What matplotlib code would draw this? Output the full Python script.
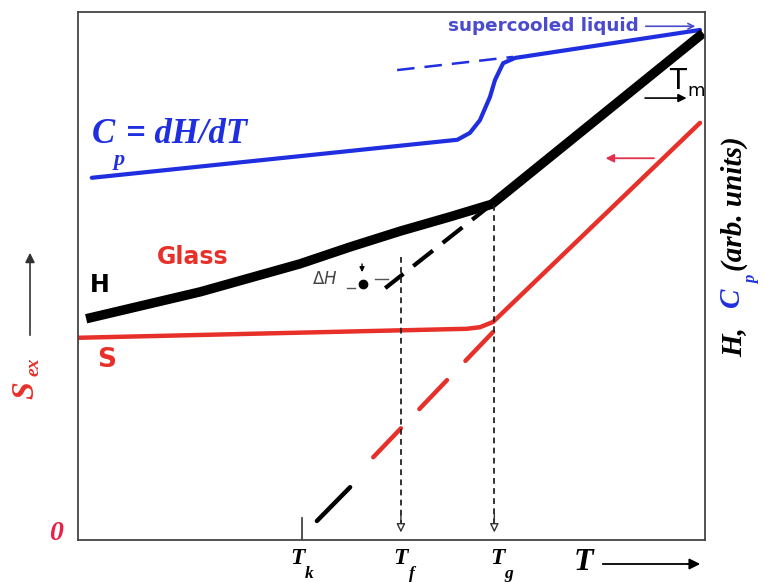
# ===================================================================== #
#            GLASS TRANSITION SCHEMATIC : H, Cp AND S vs T              #
# ===================================================================== #
import matplotlib.pyplot as plt

# ===================================================================== #
#                     DATA (schematic units, 0-100)                     #
# ===================================================================== #
# enthalpy H : glass branch then supercooled liquid
T_H = [1.3, 19.5, 35.4, 43.4, 51.4, 59.3, 66.0, 99.7]
H = [41.9, 47.0, 52.3, 55.5, 58.5, 61.2, 63.6, 96.0]
# liquid H extrapolated down to Tf
T_H_ext = [66.0, 49.0]
H_ext = [63.6, 47.7]

# heat capacity Cp = dH/dT
T_cp = [2.2, 60.5, 62.5, 64.1, 65.7, 66.5, 67.8, 69.7, 99.2]
Cp = [68.6, 75.8, 77.1, 79.5, 83.9, 87.1, 90.3, 91.3, 96.6]
T_cp_ext = [50.9, 69.4]
Cp_ext = [89.0, 91.5]

# excess entropy S
T_S = [0.0, 62.0, 64.1, 66.2, 99.2]
S = [38.3, 40.0, 40.3, 41.3, 79.0]
# liquid S extrapolated towards Kauzmann temperature
T_S_ext = [66.2, 45.9]
S_ext = [39.4, 14.2]
T_S_end = [43.4, 38.1]
S_end = [10.0, 3.6]

# characteristic temperatures
T_k, T_f, T_g = 35.7, 51.5, 66.4
Tf_top, Tg_top = 53.6, 63.4
Tk_tick = 4.2

# Delta H marker
dH_T, dH_y = 45.5, 48.5

BLUE = '#1f2fe0'
RED = '#e8302a'
LBLUE = '#4b4bcc'
SERIF = 'Liberation Serif'

# ===================================================================== #
#                               FIGURE                                  #
# ===================================================================== #
fig = plt.figure(figsize=(7.64, 5.82), dpi=100)
ax = fig.add_axes([78 / 764, 42 / 582, 627 / 764, 528 / 582])
ax.set_xlim(0, 100)
ax.set_ylim(0, 100)
ax.set_xticks([])
ax.set_yticks([])
for sp in ax.spines.values():
    sp.set_color('#444444')
    sp.set_linewidth(1.3)

# curves
ax.plot(T_cp, Cp, color=BLUE, lw=3.0, solid_capstyle='round')
ax.plot(T_cp_ext, Cp_ext, color=BLUE, lw=1.8, dashes=(7, 4))
ax.plot(T_S, S, color=RED, lw=3.2, solid_capstyle='round')
ax.plot(T_S_ext, S_ext, color=RED, lw=3.2, dashes=(9, 6), solid_capstyle='round',
        dash_capstyle='round')
ax.plot(T_S_end, S_end, color='black', lw=3.2, solid_capstyle='round')
ax.plot(T_H, H, color='black', lw=6.8, solid_capstyle='butt')
ax.plot(T_H_ext, H_ext, color='black', lw=3.0, dashes=(6, 3))

# dotted drops to Tf and Tg
for t, top in [(T_f, Tf_top), (T_g, Tg_top)]:
    ax.plot([t, t], [top, 3], color='#222222', lw=1.3, dashes=(3.2, 2.4))
    ax.annotate('', xy=(t, 0.9), xytext=(t, 5.5),
                arrowprops=dict(arrowstyle='-|>', fc='white', ec='#333333',
                                lw=1.0, mutation_scale=13))

# Tk tick
ax.plot([T_k, T_k], [0, Tk_tick], color='#333333', lw=1.2)

# Delta H
ax.plot([dH_T], [dH_y], 'o', color='black', ms=6)
ax.annotate('', xy=(dH_T - 0.2, 50.2), xytext=(dH_T - 0.2, 52.8),
            arrowprops=dict(arrowstyle='-|>', color='black', lw=1.0, mutation_scale=7))
ax.plot([42.9, 44.2], [47.7, 47.7], color='#555555', lw=1.0)
ax.plot([47.4, 49.4], [49.4, 49.4], color='#555555', lw=1.0)
ax.text(39.4, 49.4, r'$\Delta H$', color='#444444', fontsize=12,
        ha='center', va='center')

# arrows inside the plot
ax.annotate('', xy=(98.9, 97.3), xytext=(90.1, 97.3),
            arrowprops=dict(arrowstyle='->', color=LBLUE, lw=1.2))
ax.annotate('', xy=(97.5, 83.7), xytext=(90.0, 83.7),
            arrowprops=dict(arrowstyle='-|>', color='black', lw=1.2, mutation_scale=12))
ax.annotate('', xy=(83.7, 72.3), xytext=(92.3, 72.3),
            arrowprops=dict(arrowstyle='-|>', color='#e0304a', lw=1.3, mutation_scale=12))

# labels inside the plot
ax.text(74.3, 97.4, 'supercooled liquid', color=LBLUE, fontsize=13.2,
        fontweight='bold', ha='center', va='center')
ax.text(95.7, 86.9, 'T', fontsize=20, ha='center', va='center', clip_on=False)
ax.text(98.6, 85.0, 'm', fontsize=13, ha='center', va='center', clip_on=False)
ax.text(2.2, 75.2, 'C', color=BLUE, fontsize=25, family=SERIF, fontweight='bold',
        style='italic', va='baseline')
ax.text(6.6, 71.9, 'p', color=BLUE, fontsize=16, family=SERIF, fontweight='bold',
        style='italic', ha='center', va='center')
ax.text(7.7, 75.2, '= dH/dT', color=BLUE, fontsize=25, family=SERIF,
        fontweight='bold', style='italic', va='baseline')
ax.text(12.6, 53.6, 'Glass', color=RED, fontsize=17, fontweight='bold', va='center')
ax.text(1.9, 48.3, 'H', color='black', fontsize=17, fontweight='bold', va='center')
ax.text(3.0, 34.1, 'S', color=RED, fontsize=19, fontweight='bold', va='center')

# ===================================================================== #
#                        AXIS LABELS (outside)                          #
# ===================================================================== #
def fx(px):
    return px / 764


def fy(py):
    return 1 - py / 582


bi = dict(family=SERIF, fontweight='bold', style='italic')

# bottom temperature labels
for t_px, sub in [(297, 'k'), (400, 'f'), (497, 'g')]:
    fig.text(fx(t_px), fy(559), 'T', fontsize=17, ha='center', va='center', **bi)
    fig.text(fx(t_px + 12), fy(574), sub, fontsize=12.5, ha='center', va='center', **bi)
fig.text(fx(583), fy(562), 'T', fontsize=23, ha='center', va='center', **bi)
fig.add_artist(plt.Line2D([fx(603), fx(692)], [fy(564), fy(564)], color='black', lw=1.3))
ax.annotate('', xy=(fx(703), fy(564)), xytext=(fx(685), fy(564)),
            xycoords='figure fraction', textcoords='figure fraction',
            arrowprops=dict(arrowstyle='-|>', color='black', lw=1.3, mutation_scale=16))

# left axis label S_ex
fig.text(fx(56), fy(534), '0', color='#e8204a', fontsize=20, ha='center', va='center', **bi)
fig.text(fx(26), fy(390), 'S', color=RED, fontsize=23, rotation=90,
         ha='center', va='center', **bi)
fig.text(fx(34), fy(367), 'ex', color=RED, fontsize=14, rotation=90,
         ha='center', va='center', **bi)
ax.annotate('', xy=(fx(30), fy(250)), xytext=(fx(30), fy(338)),
            xycoords='figure fraction', textcoords='figure fraction',
            arrowprops=dict(arrowstyle='-|>', color='#333333', lw=1.2, mutation_scale=14))

# right axis label H, Cp (arb. units)
fig.text(fx(734), fy(357), 'H,', color='black', fontsize=21, rotation=90,
         ha='center', va='bottom', **bi)
fig.text(fx(732), fy(307), 'C', color=BLUE, fontsize=21, rotation=90,
         ha='center', va='bottom', **bi)
fig.text(fx(752), fy(280), 'p', color=BLUE, fontsize=12, rotation=90,
         ha='center', va='center', **bi)
fig.text(fx(734), fy(271), '(arb. units)', color='black', fontsize=21, rotation=90,
         ha='center', va='bottom', **bi)

fig.savefig('out.png', dpi=100)
